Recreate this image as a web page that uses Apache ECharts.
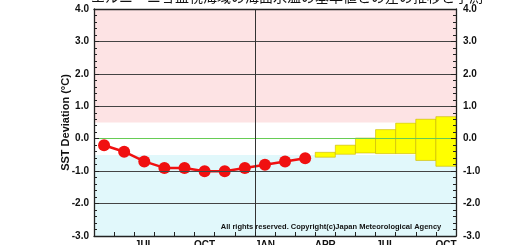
<!DOCTYPE html>
<html>
<head>
<meta charset="utf-8">
<script src="https://cdn.jsdelivr.net/npm/echarts@6/dist/echarts.min.js"></script>
<style>
html,body{margin:0;padding:0;background:#fff;}
#chart{width:520px;height:245px;}
</style>
</head>
<body>
<div id="chart"></div>
<script>
// ---- data ----
var months = ['MAY','JUN','JUL','AUG','SEP','OCT','NOV','DEC','JAN','FEB','MAR','APR','MAY','JUN','JUL','AUG','SEP','OCT'];
var tickLabels = ['', '', 'JUL', '', '', 'OCT', '', '', 'JAN', '', '', 'APR', '', '', 'JUL', '', '', 'OCT'];
var observed = [-0.2, -0.4, -0.7, -0.9, -0.9, -1.0, -1.0, -0.9, -0.8, -0.7, -0.6, null, null, null, null, null, null, null];
var forecastMonthIndex = [11, 12, 13, 14, 15, 16, 17];
var forecastLow  = [-0.57, -0.48, -0.44, -0.46, -0.46, -0.67, -0.85];
var forecastHigh = [-0.42, -0.20, 0.02, 0.28, 0.48, 0.60, 0.68];
var yTicks = [-3, -2, -1, 0, 1, 2, 3, 4];
var gridValues = [-2, -1, 1, 2, 3];
var elNinoThreshold = 0.5;
var laNinaThreshold = -0.5;
var yearBoundary = 8;
var titleText = 'エルニーニョ監視海域の海面水温の基準値との差の推移と予測';
var yTitle = 'SST Deviation (°C)';
var copyright = 'All rights reserved. Copyright(c)Japan Meteorological Agency';

var forecastData = forecastMonthIndex.map(function (m, i) { return [m, forecastLow[i], forecastHigh[i]]; });

var font = 'Liberation Sans, Arial, Helvetica, sans-serif';
var chart = echarts.init(document.getElementById('chart'), null, {renderer: 'canvas'});

function yAxisCfg(pos) {
  return {
    type: 'value', position: pos, min: yTicks[0], max: yTicks[yTicks.length - 1], interval: 1, z: 6,
    axisLine: {show: true, onZero: false, lineStyle: {color: '#222', width: 1.3}},
    axisTick: {show: true, inside: true, length: 5, lineStyle: {color: '#222'}},
    minorTick: {show: true, splitNumber: 5, length: 3, lineStyle: {color: '#222'}},
    axisLabel: {formatter: function (v) { return v.toFixed(1); }, fontSize: 10, fontWeight: 'bold', color: '#111', fontFamily: font, margin: pos === 'left' ? 5 : 7},
    splitLine: {show: false}
  };
}

var markLineData = gridValues.map(function (v) { return {yAxis: v, lineStyle: {color: '#444', width: 1, type: 'solid'}}; });
markLineData.push({yAxis: 0, lineStyle: {color: '#66cc55', width: 1, type: 'solid'}});
markLineData.push({xAxis: yearBoundary, lineStyle: {color: '#333', width: 1, type: 'solid'}});

var option = {
  animation: false,
  backgroundColor: '#ffffff',
  grid: {left: 94, right: 64, top: 9, bottom: 9, containLabel: false, outerBoundsMode: 'none'},
  xAxis: [
    {
      type: 'category', data: months, boundaryGap: true, position: 'bottom', z: 6,
      axisLine: {show: true, onZero: false, lineStyle: {color: '#222', width: 1.3}},
      axisTick: {show: true, inside: true, length: 4, interval: 0, lineStyle: {color: '#222'}},
      axisLabel: {interval: 0, formatter: function (v, i) { return tickLabels[i]; }, fontSize: 10, fontWeight: 'bold', color: '#111', fontFamily: font, margin: 4},
      splitLine: {show: false}
    },
    {
      type: 'value', min: 0, max: months.length, position: 'top', z: 6,
      axisLine: {show: true, onZero: false, lineStyle: {color: '#222', width: 1.3}},
      axisTick: {show: false}, axisLabel: {show: false}, splitLine: {show: false}
    }
  ],
  yAxis: [yAxisCfg('left'), yAxisCfg('right')],
  graphic: [
    {type: 'text', x: 287, y: -3, z: 10,
     style: {text: titleText, fontSize: 14, fontFamily: 'Noto Sans CJK JP', fill: '#111', textAlign: 'center', textVerticalAlign: 'middle'}},
    {type: 'text', x: 66, y: 122.5, rotation: Math.PI / 2, z: 10,
     style: {text: yTitle, fontSize: 11, fontWeight: 'bold', fontFamily: font, fill: '#111', textAlign: 'center', textVerticalAlign: 'middle'}},
    {type: 'text', x: 331, y: 227, z: 10,
     style: {text: copyright, fontSize: 7.5, fontWeight: 'bold', fontFamily: font, fill: '#111', textAlign: 'center', textVerticalAlign: 'middle'}}
  ],
  series: [
    {
      type: 'line', xAxisIndex: 1, yAxisIndex: 0, data: [], z: 1, silent: true,
      markArea: {
        silent: true, label: {show: false},
        data: [
          [{yAxis: elNinoThreshold, itemStyle: {color: '#fde3e4'}}, {yAxis: yTicks[yTicks.length - 1]}],
          [{yAxis: yTicks[0], itemStyle: {color: '#e1f8fb'}}, {yAxis: laNinaThreshold}]
        ]
      },
      markLine: {silent: true, symbol: 'none', label: {show: false}, data: markLineData}
    },
    {
      type: 'custom', xAxisIndex: 0, yAxisIndex: 0, z: 3, silent: true,
      data: forecastData,
      encode: {x: 0, y: [1, 2]},
      renderItem: function (params, api) {
        var idx = api.value(0);
        var top = api.coord([idx, api.value(2)]);
        var bot = api.coord([idx, api.value(1)]);
        var w = api.size([1, 0])[0];
        return {
          type: 'rect',
          shape: {x: top[0] - w / 2, y: top[1], width: w, height: bot[1] - top[1]},
          style: {fill: '#ffff00', stroke: '#c8b400', lineWidth: 0.6}
        };
      }
    },
    {
      type: 'line', xAxisIndex: 0, yAxisIndex: 0, data: observed, z: 4, silent: true,
      symbol: 'circle', symbolSize: 12,
      itemStyle: {color: '#f01010'},
      lineStyle: {color: '#f01010', width: 2.5}
    }
  ]
};
chart.setOption(option);
</script>
</body>
</html>
